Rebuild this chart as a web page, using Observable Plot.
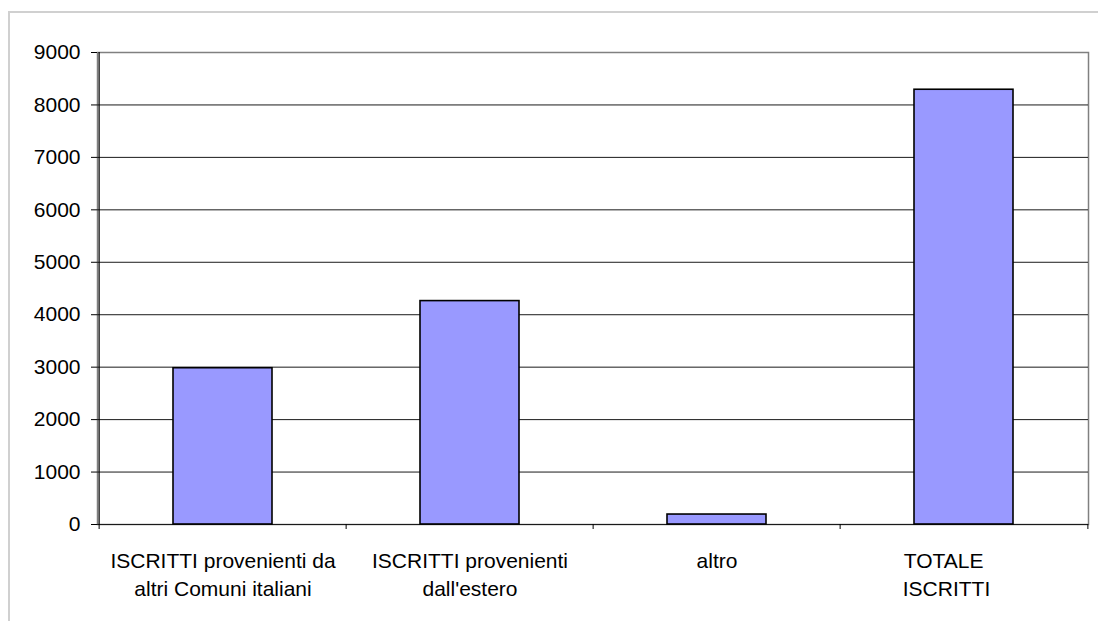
<!DOCTYPE html>
<html>
<head>
<meta charset="utf-8">
<script src="https://cdn.jsdelivr.net/npm/d3@7"></script>
<script src="https://cdn.jsdelivr.net/npm/@observablehq/plot@0.6"></script>
<style>
  html, body { margin: 0; padding: 0; background: #fff; overflow: hidden; }
  #wrap { position: relative; width: 1098px; height: 621px; overflow: hidden; }
  #frame { position: absolute; left: 8px; top: 11px; width: 1200px; height: 700px;
           border-left: 2px solid #d0d0d0; border-top: 2px solid #d0d0d0; }
  #chart { position: absolute; left: 0; top: 0; }
</style>
</head>
<body>
<div id="wrap"><div id="frame"></div><div id="chart"></div></div>
<script>
const categories = [
  "ISCRITTI provenienti da altri Comuni italiani",
  "ISCRITTI provenienti dall'estero",
  "altro",
  "TOTALE ISCRITTI"
];
const values = [2980, 4260, 190, 8290];
const xTickLabels = [
  "ISCRITTI provenienti da\naltri Comuni italiani",
  "ISCRITTI provenienti\ndall'estero",
  "altro",
  "TOTALE\u00a0\u00a0\u00a0\u00a0\u00a0\u00a0\u00a0\nISCRITTI\u00a0\u00a0\u00a0\u00a0\u00a0\u00a0"
];
const yTicks = [0, 1000, 2000, 3000, 4000, 5000, 6000, 7000, 8000, 9000];
const yTickLabels = ["0", "1000", "2000", "3000", "4000", "5000", "6000", "7000", "8000", "9000"];

const data = categories.map((c, i) => ({category: c, value: values[i]}));

const W = 1098, H = 621, mL = 97, mR = 10, mT = 52, mB = 97;
const bw = (W - mL - mR) / categories.length;

const chart = Plot.plot({
  width: W, height: H,
  marginLeft: mL, marginRight: mR, marginTop: mT, marginBottom: mB,
  style: {fontFamily: "'Liberation Sans', Arial, sans-serif", fontSize: "21px", color: "#000", background: "transparent"},
  x: {domain: categories, paddingInner: 0.6, paddingOuter: 0.3, label: null},
  y: {domain: [0, 9000], label: null},
  marks: [
    Plot.frame({stroke: "#808080", strokeWidth: 1.5}),
    Plot.ruleY(yTicks.slice(0, -1), {stroke: "#1a1a1a", strokeWidth: 1}),
    Plot.barY(data, {x: "category", y: "value", fill: "#9999ff", stroke: "#000", strokeWidth: 1.6}),
    Plot.ruleX([categories[0]], {x: d => d, dx: -bw / 2, stroke: "#000", strokeWidth: 1.2}),
    Plot.ruleX(categories, {x: d => d, dx: -bw / 2, y1: 0, y2: 0, insetBottom: -5, stroke: "#000"}),
    Plot.ruleX([categories[categories.length - 1]], {x: d => d, dx: bw / 2, y1: 0, y2: 0, insetBottom: -5, stroke: "#000"}),
    Plot.axisY({ticks: yTicks, tickSize: 6, tickPadding: 11, fontSize: 21,
      tickFormat: d => yTickLabels[yTicks.indexOf(d)]}),
    Plot.axisX({tickSize: 0, tickPadding: 23, fontSize: 21, lineHeight: 1.35,
      tickFormat: d => xTickLabels[categories.indexOf(d)]})
  ]
});
document.getElementById("chart").appendChild(chart);
</script>
</body>
</html>
